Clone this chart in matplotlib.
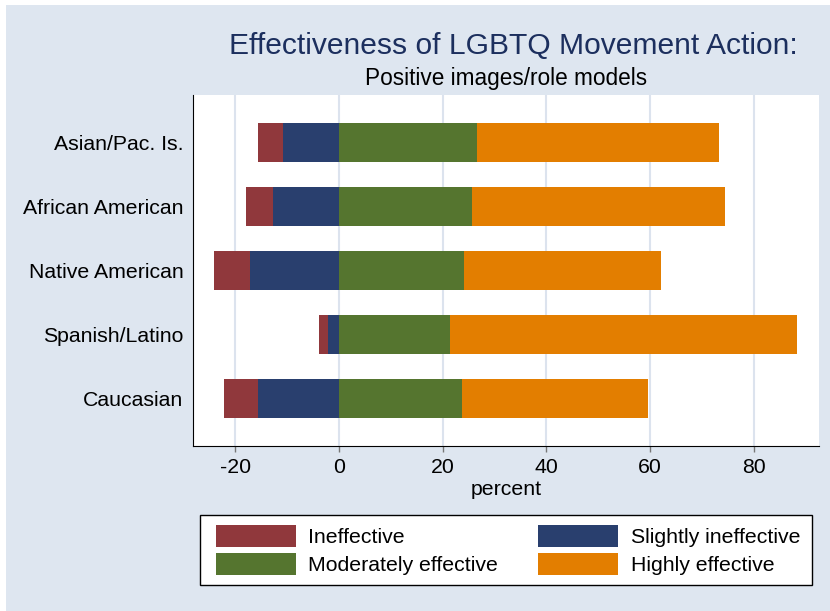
import matplotlib.pyplot as plt
from matplotlib.patches import Rectangle

plt.rcParams['font.family'] = ['Liberation Sans', 'DejaVu Sans']

groups = ["Asian/Pac. Is.", "African American", "Native American",
          "Spanish/Latino", "Caucasian"]
ineffective = [4.7, 5.3, 7.0, 1.7, 6.7]
slightly_ineffective = [10.9, 12.7, 17.2, 2.2, 15.6]
moderately_effective = [26.6, 25.6, 24.1, 21.4, 23.8]
highly_effective = [46.7, 48.8, 38.0, 67.0, 35.8]
x_ticks = [-20, 0, 20, 40, 60, 80]

bg = "#DEE6F0"
colors = {
    "Ineffective": "#90383C",
    "Slightly ineffective": "#293F6E",
    "Moderately effective": "#55752F",
    "Highly effective": "#E37E00",
}

fig = plt.figure(figsize=(8.3, 6.11), dpi=100, facecolor="white")
fig.patches.append(Rectangle((6 / 830, 0), 1, 1 - 5 / 611,
                             transform=fig.transFigure,
                             facecolor=bg, edgecolor="none", zorder=-10))

ax = fig.add_axes([193 / 830, 165 / 611, 626 / 830, 351 / 611])
ax.set_facecolor("white")

y = list(range(len(groups)))[::-1]
h = 0.61

neg_slight = [-v for v in slightly_ineffective]
ax.barh(y, neg_slight, height=h, color=colors["Slightly ineffective"],
        label="Slightly ineffective", zorder=3)
ax.barh(y, [-v for v in ineffective], left=neg_slight, height=h,
        color=colors["Ineffective"], label="Ineffective", zorder=3)
ax.barh(y, moderately_effective, height=h,
        color=colors["Moderately effective"], label="Moderately effective",
        zorder=3)
ax.barh(y, highly_effective, left=moderately_effective, height=h,
        color=colors["Highly effective"], label="Highly effective", zorder=3)

ax.set_xlim(-28.2, 92.6)
ax.set_ylim(-0.74, 4.74)
ax.set_yticks(y)
ax.set_yticklabels(groups, fontsize=15.3)
ax.set_xticks(x_ticks)
ax.set_xticklabels([str(t) for t in x_ticks], fontsize=15.3)
ax.tick_params(axis="y", length=0, pad=7)
ax.tick_params(axis="x", length=4.5, width=1, color="#777777", pad=4)
ax.grid(axis="x", color="#DCE3EE", linewidth=1.5, zorder=0)
ax.set_axisbelow(True)

for s in ["top", "right"]:
    ax.spines[s].set_visible(False)
ax.spines["left"].set_color("black")
ax.spines["bottom"].set_color("black")

ax.set_xlabel("percent", fontsize=15.3, labelpad=2)

fig.text(513 / 830, 1 - 46 / 611, "Effectiveness of LGBTQ Movement Action:",
         fontsize=21.6, color="#1C2F5E", ha="center", va="center")
fig.text(506 / 830, 1 - 78 / 611, "Positive images/role models",
         fontsize=16.3, color="black", ha="center", va="center")

# legend box drawn separately so the side padding can differ from the top
fig.patches.append(Rectangle((200 / 830, 26 / 611), 612 / 830, 70 / 611,
                             transform=fig.transFigure, facecolor="white",
                             edgecolor="black", linewidth=1, zorder=1))

handles, labels = ax.get_legend_handles_labels()
# matplotlib fills legend columns first, so list them column by column
order = ["Ineffective", "Moderately effective",
         "Slightly ineffective", "Highly effective"]
hmap = dict(zip(labels, handles))
leg = fig.legend([hmap[k] for k in order], order, ncol=2,
                 loc="center",
                 bbox_to_anchor=(216 / 830, 26 / 611, 584 / 830, 70 / 611),
                 mode="expand", fontsize=15.3, frameon=False,
                 handlelength=3.75, handleheight=1.2, handletextpad=0.6,
                 borderaxespad=0, labelspacing=0.3, borderpad=0)
leg.set_zorder(2)

fig.savefig("out.png", dpi=100, facecolor=fig.get_facecolor())
